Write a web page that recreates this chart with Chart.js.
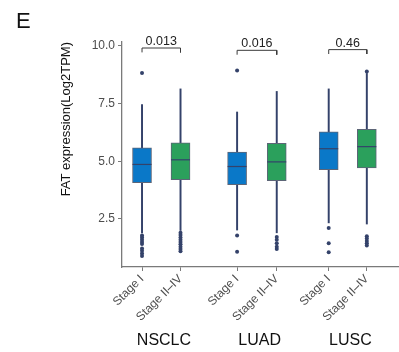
<!DOCTYPE html>
<html>
<head>
<meta charset="utf-8">
<script src="https://cdn.jsdelivr.net/npm/chart.js@4/dist/chart.umd.min.js"></script>
<style>
  html, body { margin: 0; padding: 0; background: #fff; }
  #wrap { width: 399px; height: 352px; position: relative; }
</style>
</head>
<body>
<div id="wrap"><canvas id="c" width="399" height="352"></canvas></div>
<script>
// FAT expression by tumour stage, per cohort (box summaries in log2 TPM)
const groups = ['NSCLC', 'LUAD', 'LUSC'];
const stages = ['Stage I', 'Stage II–IV'];
// one entry per box: NSCLC I, NSCLC II–IV, LUAD I, LUAD II–IV, LUSC I, LUSC II–IV
const q1 = [4.07, 4.20, 3.98, 4.16, 4.63, 4.71];
const median = [4.86, 5.06, 4.77, 4.97, 5.54, 5.63];
const q3 = [5.58, 5.80, 5.39, 5.77, 6.27, 6.38];
const whiskerLow = [1.90, 2.00, 2.02, 1.90, 2.33, 2.28];
const whiskerHigh = [7.45, 8.13, 7.13, 8.02, 8.13, 8.80];
const outliers = [
  [8.82, 1.78, 1.70, 1.60, 1.50, 1.42, 1.22, 1.12, 1.00, 0.90],
  [1.90, 1.80, 1.70, 1.60, 1.50, 1.40, 1.30, 1.20, 1.10],
  [8.93, 1.78, 1.08],
  [1.72, 1.60, 1.45, 1.30, 1.20],
  [2.11, 1.45, 1.06],
  [8.88, 1.75, 1.65, 1.55, 1.45, 1.35]
];
const pValues = ['0.013', '0.016', '0.46'];
const bracketLevel = [9.90, 9.80, 9.83];
const yTicks = [2.5, 5.0, 7.5, 10.0];

// layout: x slot of each box on the shared axis
const slotX = [1.00, 2.00, 3.47, 4.50, 5.85, 6.84];
const groupX = [0, 1, 2].map(g => (slotX[2 * g] + slotX[2 * g + 1]) / 2 + 0.07);
const stageColors = ['#0a78c8', '#2ba05c'];
const boxColors = slotX.map((_, i) => stageColors[i % 2]);
const inkDark = '#34426a';
const FONT = "'Liberation Sans', Arial, sans-serif";

const boxData = slotX.map((x, i) => ({ x, y: [q1[i], q3[i]] }));
const whiskerData = slotX.map((x, i) => ({ x, y: [whiskerLow[i], whiskerHigh[i]] }));
const medianData = slotX.map((x, i) => ({ x, y: median[i] }));
const outlierData = [];
outliers.forEach((vals, i) => vals.forEach(v => outlierData.push({ x: slotX[i], y: v })));

const bracketDrop = 0.19;
const bracketSets = groups.map((g, k) => {
  const a = slotX[2 * k], b = slotX[2 * k + 1], h = bracketLevel[k];
  return {
    type: 'scatter', xAxisID: 'x', yAxisID: 'y',
    data: [{ x: a, y: h - bracketDrop }, { x: a, y: h }, { x: b, y: h }, { x: b, y: h - bracketDrop }],
    showLine: true, borderColor: '#3a3a3a', borderWidth: 1, pointRadius: 0, order: 0
  };
});

// p-value text above each bracket and the panel letter
const annotate = {
  id: 'annotate',
  afterDatasetsDraw(chart) {
    const { ctx, scales: { x, y } } = chart;
    ctx.save();
    ctx.fillStyle = '#222';
    ctx.font = '12.5px ' + FONT;
    ctx.textAlign = 'center';
    ctx.textBaseline = 'alphabetic';
    groups.forEach((g, k) => {
      const cx = (x.getPixelForValue(slotX[2 * k]) + x.getPixelForValue(slotX[2 * k + 1])) / 2;
      ctx.fillText(pValues[k], cx, y.getPixelForValue(bracketLevel[k]) - 3);
    });
    ctx.fillStyle = '#111';
    ctx.font = '22px ' + FONT;
    ctx.textAlign = 'left';
    ctx.textBaseline = 'top';
    ctx.fillText('E', 16, 11);
    ctx.restore();
  }
};

// fixed axis sizes, no label overhang padding
const fixBox = (w, h) => s => {
  if (w != null) s.width = w;
  if (h != null) s.height = h;
  s.paddingLeft = 0; s.paddingRight = 0; s.paddingTop = 0; s.paddingBottom = 0;
};

new Chart(document.getElementById('c'), {
  type: 'bar',
  data: {
    datasets: [
      {
        type: 'scatter', xAxisID: 'x', yAxisID: 'y', data: medianData,
        pointStyle: 'line', pointRadius: 9.5, borderColor: inkDark, borderWidth: 1.2, order: 0
      },
      {
        type: 'bar', xAxisID: 'x', yAxisID: 'y', data: boxData, grouped: false,
        barThickness: 19, backgroundColor: boxColors, borderColor: '#5d6577',
        borderWidth: 1, borderSkipped: false, order: 1
      },
      {
        type: 'scatter', xAxisID: 'x', yAxisID: 'y', data: outlierData,
        pointStyle: 'circle', pointRadius: 2, backgroundColor: inkDark, borderWidth: 0, order: 2
      },
      {
        type: 'bar', xAxisID: 'x', yAxisID: 'y', data: whiskerData, grouped: false,
        barThickness: 1.3, backgroundColor: inkDark, borderWidth: 0, order: 3
      },
      ...bracketSets
    ]
  },
  options: {
    responsive: false,
    animation: false,
    events: [],
    layout: { autoPadding: false, padding: { left: 55, top: 42, right: 1, bottom: 0 } },
    plugins: { legend: { display: false }, tooltip: { enabled: false } },
    scales: {
      x: {
        type: 'linear', position: 'bottom', min: 0.48, max: 7.65, offset: false,
        afterBuildTicks: s => { s.ticks = slotX.map(v => ({ value: v })); },
        afterFit: fixBox(null, 60),
        ticks: {
          autoSkip: false, minRotation: 45, maxRotation: 45, padding: 1,
          color: '#4d4d4d', font: { family: FONT, size: 12 },
          callback: (v, i) => stages[i % 2]
        },
        grid: { offset: false, drawOnChartArea: false, drawTicks: true, tickLength: 4, color: '#7a7a7a', lineWidth: 1 },
        border: { display: true, color: '#7a7a7a', width: 1.3 }
      },
      x2: {
        type: 'linear', position: 'bottom', min: 0.48, max: 7.65, offset: false,
        afterBuildTicks: s => { s.ticks = groupX.map(v => ({ value: v })); },
        afterFit: fixBox(null, 25),
        ticks: {
          autoSkip: false, minRotation: 0, maxRotation: 0, padding: 4,
          color: '#111', font: { family: FONT, size: 16 },
          callback: (v, i) => groups[i]
        },
        grid: { offset: false, display: false, drawTicks: false },
        border: { display: false }
      },
      y: {
        type: 'linear', min: 0.42, max: 10.16,
        afterBuildTicks: s => { s.ticks = yTicks.map(v => ({ value: v })); },
        afterFit: fixBox(67, null),
        ticks: {
          color: '#4d4d4d', padding: 3, font: { family: FONT, size: 12 },
          callback: v => Number(v).toFixed(1)
        },
        grid: { drawOnChartArea: false, drawTicks: true, tickLength: 4, color: '#7a7a7a', lineWidth: 1 },
        border: { display: true, color: '#7a7a7a', width: 1.3 },
        title: {
          display: true, text: 'FAT expression(Log2TPM)', color: '#111', align: 'end',
          font: { family: FONT, size: 13 }, padding: { top: 4, bottom: 0 }
        }
      }
    }
  },
  plugins: [annotate]
});
</script>
</body>
</html>
